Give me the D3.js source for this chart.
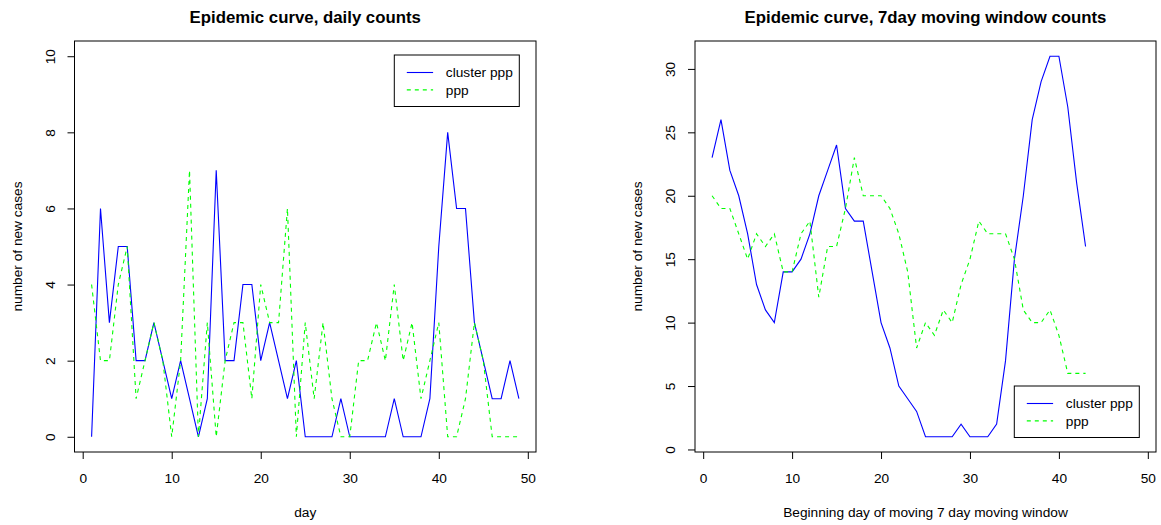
<!DOCTYPE html>
<html>
<head>
<meta charset="utf-8">
<script src="https://cdn.jsdelivr.net/npm/d3@7"></script>
<style>
    body { margin: 0; background: #fff; }
    text { font-family: "Liberation Sans", Arial, Helvetica, sans-serif; fill: #000; font-size: 13.7px; }
    .title { font-weight: bold; font-size: 16.8px; }
    .tick line { stroke: #000; }
</style>
</head>
<body>
<div id="chart"></div>
<script>
const dimensions = {
    width: 1161,
    height: 525
};

// data: daily counts, days 1..49
const dailyDays = [1, 2, 3, 4, 5, 6, 7, 8, 9, 10, 11, 12, 13, 14, 15, 16, 17, 18, 19, 20,
    21, 22, 23, 24, 25, 26, 27, 28, 29, 30, 31, 32, 33, 34, 35, 36, 37, 38, 39, 40,
    41, 42, 43, 44, 45, 46, 47, 48, 49];
const dailyCluster = [0, 6, 3, 5, 5, 2, 2, 3, 2, 1, 2, 1, 0, 1, 7, 2, 2, 4, 4, 2,
    3, 2, 1, 2, 0, 0, 0, 0, 1, 0, 0, 0, 0, 0, 1, 0, 0, 0, 1, 5,
    8, 6, 6, 3, 2, 1, 1, 2, 1];
const dailyPpp = [4, 2, 2, 4, 5, 1, 2, 3, 2, 0, 2, 7, 0, 3, 0, 2, 3, 3, 1, 4,
    3, 3, 6, 0, 3, 1, 3, 1, 0, 0, 2, 2, 3, 2, 4, 2, 3, 1, 2, 3,
    0, 0, 1, 3, 2, 0, 0, 0, 0];

// data: 7 day moving window counts, start days 1..43
const windowDays = [1, 2, 3, 4, 5, 6, 7, 8, 9, 10, 11, 12, 13, 14, 15, 16, 17, 18, 19, 20,
    21, 22, 23, 24, 25, 26, 27, 28, 29, 30, 31, 32, 33, 34, 35, 36, 37, 38, 39, 40,
    41, 42, 43];
const windowCluster = [23, 26, 22, 20, 17, 13, 11, 10, 14, 14, 15, 17, 20, 22, 24, 19, 18, 18, 14, 10,
    8, 5, 4, 3, 1, 1, 1, 1, 2, 1, 1, 1, 2, 7, 15, 20, 26, 29, 31, 31,
    27, 21, 16];
const windowPpp = [20, 19, 19, 17, 15, 17, 16, 17, 14, 14, 17, 18, 12, 16, 16, 19, 23, 20, 20, 20,
    19, 17, 14, 8, 10, 9, 11, 10, 13, 15, 18, 17, 17, 17, 15, 11, 10, 10, 11, 9,
    6, 6, 6];

// tick labels
const xTicks = [0, 10, 20, 30, 40, 50];
const dailyYTicks = [0, 2, 4, 6, 8, 10];
const windowYTicks = [0, 5, 10, 15, 20, 25, 30];

const seriesNames = ['cluster ppp', 'ppp'];
const seriesColors = ['#0000ff', '#00ff00'];
const seriesDash = [null, '4,4'];

const svg = d3.select('#chart')
    .append('svg')
    .attr('width', dimensions.width)
    .attr('height', dimensions.height);

const drawPanel = (cfg) => {
    const x = d3.scaleLinear().domain(cfg.xDomain).range([cfg.left, cfg.right]);
    const y = d3.scaleLinear().domain(cfg.yDomain).range([cfg.bottom, cfg.top]);

    // title
    svg.append('text')
        .attr('class', 'title')
        .attr('x', (cfg.left + cfg.right) / 2)
        .attr('y', 17)
        .attr('dy', '0.35em')
        .attr('text-anchor', 'middle')
        .text(cfg.title);

    // axes
    const xAxis = d3.axisBottom(x).tickValues(xTicks).tickSize(7).tickPadding(14);
    const xAxisGroup = svg.append('g')
        .attr('transform', `translate(0, ${cfg.bottom})`)
        .call(xAxis);
    xAxisGroup.select('.domain').remove();
    xAxisGroup.selectAll('text').style('font-size', '13.7px').style('font-family', null);

    const yAxis = d3.axisLeft(y).tickValues(cfg.yTicks).tickSize(7);
    const yAxisGroup = svg.append('g')
        .attr('transform', `translate(${cfg.left}, 0)`)
        .call(yAxis);
    yAxisGroup.select('.domain').remove();
    yAxisGroup.selectAll('text')
        .attr('x', null)
        .attr('dy', '0.35em')
        .attr('text-anchor', 'middle')
        .attr('transform', 'translate(-24.5, 0) rotate(-90)')
        .style('font-size', '13.7px')
        .style('font-family', null);

    // axis titles
    svg.append('text')
        .attr('x', (cfg.left + cfg.right) / 2)
        .attr('y', 512)
        .attr('dy', '0.35em')
        .attr('text-anchor', 'middle')
        .text(cfg.xLabel);

    svg.append('text')
        .attr('transform', `translate(${cfg.left - 57.5}, ${(cfg.top + cfg.bottom) / 2}) rotate(-90)`)
        .attr('dy', '0.35em')
        .attr('text-anchor', 'middle')
        .text(cfg.yLabel);

    // lines
    const line = d3.line()
        .x(d => x(d[0]))
        .y(d => y(d[1]));

    cfg.series.forEach((values, i) => {
        svg.append('path')
            .datum(cfg.days.map((day, j) => [day, values[j]]))
            .attr('fill', 'none')
            .attr('stroke', seriesColors[i])
            .attr('stroke-width', 1.1)
            .attr('stroke-dasharray', seriesDash[i])
            .attr('d', line);
    });

    // box
    svg.append('rect')
        .attr('x', cfg.left)
        .attr('y', cfg.top)
        .attr('width', cfg.right - cfg.left)
        .attr('height', cfg.bottom - cfg.top)
        .attr('fill', 'none')
        .attr('stroke', '#000')
        .attr('stroke-width', 1);

    // legend
    const lg = svg.append('g')
        .attr('transform', `translate(${cfg.legend.x}, ${cfg.legend.y})`);

    lg.append('rect')
        .attr('width', 125)
        .attr('height', 51.5)
        .attr('fill', '#fff')
        .attr('stroke', '#000');

    seriesNames.forEach((name, i) => {
        const ly = 17.5 + i * 17.4;
        lg.append('line')
            .attr('x1', 12.5)
            .attr('x2', 38.8)
            .attr('y1', ly)
            .attr('y2', ly)
            .attr('stroke', seriesColors[i])
            .attr('stroke-width', 1.1)
            .attr('stroke-dasharray', seriesDash[i]);
        lg.append('text')
            .attr('x', 51.5)
            .attr('y', ly)
            .attr('dy', '0.35em')
            .text(name);
    });
};

drawPanel({
    title: 'Epidemic curve, daily counts',
    xLabel: 'day',
    yLabel: 'number of new cases',
    left: 74.5, right: 536, top: 41, bottom: 452,
    xDomain: [-0.92, 50.92],
    yDomain: [-0.4, 10.4],
    yTicks: dailyYTicks,
    days: dailyDays,
    series: [dailyCluster, dailyPpp],
    legend: { x: 394.3, y: 55 }
});

drawPanel({
    title: 'Epidemic curve, 7day moving window counts',
    xLabel: 'Beginning day of moving 7 day moving window',
    yLabel: 'number of new cases',
    left: 695, right: 1156, top: 41, bottom: 452,
    xDomain: [-0.92, 50.92],
    yDomain: [-0.2, 32.2],
    yTicks: windowYTicks,
    days: windowDays,
    series: [windowCluster, windowPpp],
    legend: { x: 1014.3, y: 386 }
});
</script>
</body>
</html>
